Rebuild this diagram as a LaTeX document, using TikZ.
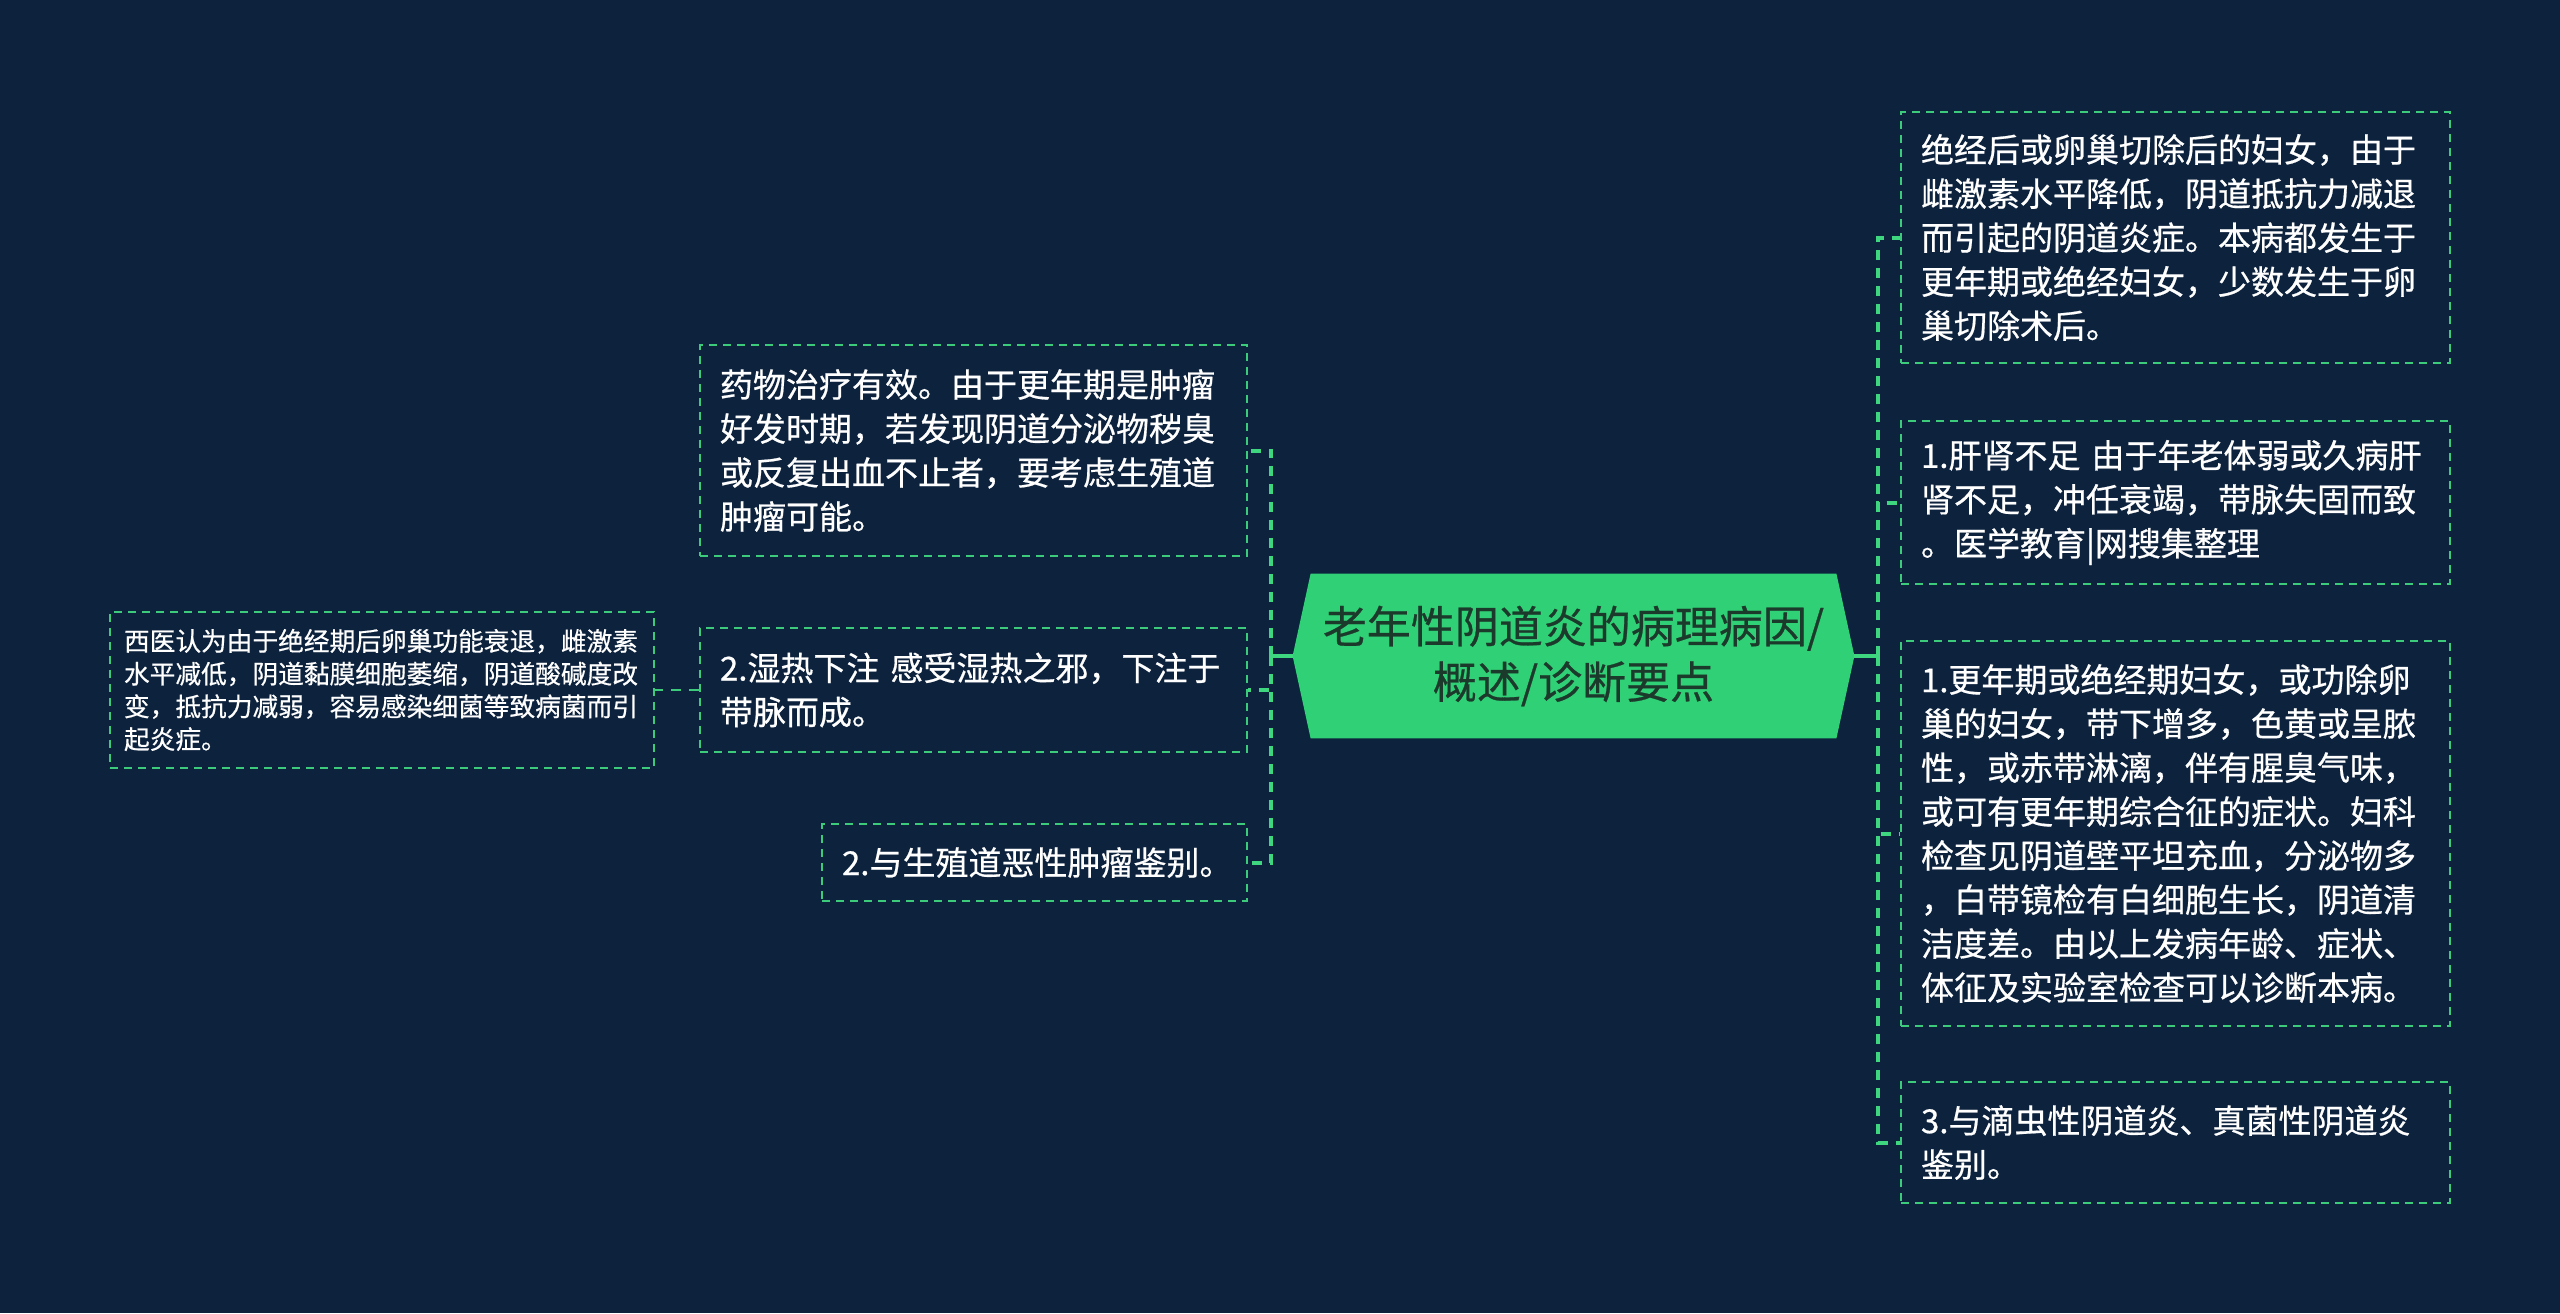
\documentclass[tikz,border=0pt]{standalone}
\usepackage{fontspec}
\newfontfamily\cjk[RawFeature={embolden=0.6}]{Noto Sans CJK SC}
\usetikzlibrary{backgrounds}
\definecolor{bgc}{HTML}{0D223D}
\definecolor{cgreen}{RGB}{48,208,118}
\definecolor{bord}{HTML}{3CCB7B}
\definecolor{busc}{HTML}{3ED67F}
\definecolor{ctext}{HTML}{1C3A2C}
\tikzset{
  leaf/.style={draw=bord, line width=1pt, dash pattern=on 4pt off 3pt,
    text=white, font=\cjk\fontsize{16.5}{22}\selectfont, align=left,
    inner xsep=10pt, inner ysep=0pt, anchor=north west},
  smallleaf/.style={leaf, font=\cjk\fontsize{12.85}{16.35}\selectfont, inner xsep=7pt},
  edge/.style={draw=busc, line width=2pt, dash pattern=on 5pt off 4pt},
  stub/.style={draw=busc, line width=1.6pt},
}
\begin{document}
\begin{tikzpicture}[x=0.5pt,y=-0.5pt]
\useasboundingbox (0,0) rectangle (2560,1313);

% central node
\node (c) [minimum width=280.5pt, minimum height=82pt, inner sep=0pt,
  text=ctext, align=center, font=\cjk\fontsize{22}{27.75}\selectfont]
  at (1573.5,656) {老年性阴道炎的病理病因/\\概述/诊断要点};
\begin{scope}[on background layer]
  \fill[bgc] (0,0) rectangle (2560,1313);
  \fill[cgreen] (c.west) -- ([xshift=9pt]c.north west) -- ([xshift=-9pt]c.north east)
    -- (c.east) -- ([xshift=-9pt]c.south east) -- ([xshift=9pt]c.south west) -- cycle;
\end{scope}

% right nodes
\node (r1) [leaf, text width=254.5pt, minimum height=125.5pt] at (1900,111)
 {绝经后或卵巢切除后的妇女，由于\\雌激素水平降低，阴道抵抗力减退\\而引起的阴道炎症。本病都发生于\\更年期或绝经妇女，少数发生于卵\\巢切除术后。};
\node (r2) [leaf, text width=254.5pt, minimum height=81.5pt] at (1900,420)
 {1.肝肾不足 由于年老体弱或久病肝\\肾不足，冲任衰竭，带脉失固而致\\。医学教育|网搜集整理};
\node (r3) [leaf, text width=254.5pt, minimum height=192.5pt] at (1900,640)
 {1.更年期或绝经期妇女，或功除卵\\巢的妇女，带下增多，色黄或呈脓\\性，或赤带淋漓，伴有腥臭气味，\\或可有更年期综合征的症状。妇科\\检查见阴道壁平坦充血，分泌物多\\，白带镜检有白细胞生长，阴道清\\洁度差。由以上发病年龄、症状、\\体征及实验室检查可以诊断本病。};
\node (r4) [leaf, text width=254.5pt, minimum height=60.5pt] at (1900,1081)
 {3.与滴虫性阴道炎、真菌性阴道炎\\鉴别。};

% left nodes
\node (l1) [leaf, text width=253.5pt, minimum height=105.5pt] at (699,344)
 {药物治疗有效。由于更年期是肿瘤\\好发时期，若发现阴道分泌物秽臭\\或反复出血不止者，要考虑生殖道\\肿瘤可能。};
\node (l2) [leaf, text width=253.5pt, minimum height=62pt] at (699,627)
 {2.湿热下注 感受湿热之邪，下注于\\带脉而成。};
\node (l3) [leaf, text width=192.5pt, minimum height=38.5pt] at (821,823)
 {2.与生殖道恶性肿瘤鉴别。};
\node (ll) [smallleaf, text width=258pt, minimum height=78pt] at (109,611)
 {西医认为由于绝经期后卵巢功能衰退，雌激素\\水平减低，阴道黏膜细胞萎缩，阴道酸碱度改\\变，抵抗力减弱，容易感染细菌等致病菌而引\\起炎症。};

% connectors
\coordinate (rb) at (1878,656);
\coordinate (lb) at (1271,656);
\draw[stub] (c.east) -- (rb);
\draw[stub] (c.west) -- (lb);
\foreach \n in {r1,r2,r3,r4} \draw[edge] (rb) |- (\n.west);
\foreach \n in {l1,l2,l3} \draw[edge] (lb) |- (\n.east);
\draw[edge, line width=1.2pt, draw=bord] (l2.west) -- (ll.east);
\end{tikzpicture}
\end{document}
